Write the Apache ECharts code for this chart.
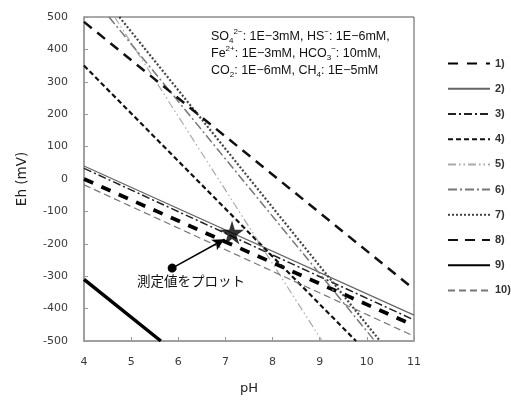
<!DOCTYPE html>
<html>
<head>
<meta charset="utf-8">
<script src="https://cdn.jsdelivr.net/npm/echarts@6/dist/echarts.min.js"></script>
<style>
  html, body { margin: 0; padding: 0; background: #fff; }
  #chart { width: 511px; height: 405px; }
</style>
</head>
<body>
<div id="chart"></div>
<script>
// line endpoints [pH, Eh(mV)]
const line1 = [[4, 0], [11, -452]]
const line2 = [[4, 40], [11, -420]]
const line3 = [[4, 33], [11, -435]]
const line4 = [[4, 350], [9.77, -500]]
const line5 = [[4.65, 500], [9.05, -500]]
const line6 = [[4.53, 500], [10.17, -500]]
const line7 = [[4.75, 500], [10.28, -500]]
const line8 = [[4, 485], [11, -340]]
const line9 = [[4, -310], [5.63, -500]]
const line10 = [[4, -18], [11, -485]]

const measured = [[7.14, -165]]
const arrowFrom = [5.87, -275]
const arrowTo = [6.98, -186]

const legendNames = ['1)', '2)', '3)', '4)', '5)', '6)', '7)', '8)', '9)', '10)']
const xTicks = { min: 4, max: 11, step: 1 }
const yTicks = { min: -500, max: 500, step: 100 }

const chart = echarts.init(document.getElementById('chart'))

function lineSeries(name, data, color, width, type) {
  return {
    name,
    type: 'line',
    data,
    symbol: 'none',
    showSymbol: false,
    silent: true,
    itemStyle: { color },
    lineStyle: { color, width, type }
  }
}

const starPath = 'path://M50,0 L61,35 L98,35 L68,57 L79,91 L50,70 L21,91 L32,57 L2,35 L39,35 Z'

const option = {
  animation: false,
  grid: {
    left: 84,
    right: 97,
    top: 17,
    bottom: 64,
    show: true,
    borderColor: '#555',
    borderWidth: 1
  },
  legend: {
    data: legendNames,
    orient: 'vertical',
    left: 447,
    top: 58,
    padding: 0,
    itemWidth: 42,
    itemHeight: 14,
    itemGap: 14,
    itemStyle: { opacity: 0 },
    textStyle: { fontSize: 11, fontWeight: 'bold', color: '#333', fontFamily: 'Liberation Sans' }
  },
  xAxis: {
    type: 'value',
    min: xTicks.min,
    max: xTicks.max,
    interval: xTicks.step,
    name: 'pH',
    nameLocation: 'middle',
    nameGap: 41,
    nameTextStyle: { fontSize: 13, color: '#222', fontFamily: 'DejaVu Sans' },
    axisLine: { onZero: false, lineStyle: { color: '#a0a0a0', width: 2 } },
    axisTick: { show: true, inside: true, length: 4, lineStyle: { color: '#999' } },
    axisLabel: { margin: 16, fontSize: 11, color: '#3a3a3a', fontFamily: 'DejaVu Sans' },
    splitLine: { show: false }
  },
  yAxis: {
    type: 'value',
    min: yTicks.min,
    max: yTicks.max,
    interval: yTicks.step,
    name: 'Eh (mV)',
    nameLocation: 'middle',
    nameGap: 55,
    nameTextStyle: { fontSize: 13.5, color: '#222', fontFamily: 'DejaVu Sans' },
    axisLine: { show: true, onZero: false, lineStyle: { color: '#a0a0a0', width: 2 } },
    axisTick: { show: true, inside: true, length: 4, lineStyle: { color: '#999' } },
    axisLabel: { margin: 16, fontSize: 11, color: '#3a3a3a', fontFamily: 'DejaVu Sans' },
    splitLine: { show: false }
  },
  graphic: [
    {
      type: 'text',
      left: 211,
      top: 28,
      silent: true,
      style: {
        text: 'SO{sub|4}{sup|2−}: 1E−3mM, HS{sup|−}: 1E−6mM,\n' +
          'Fe{sup|2+}: 1E−3mM, HCO{sub|3}{sup|−}: 10mM,\n' +
          'CO{sub|2}: 1E−6mM, CH{sub|4}: 1E−5mM',
        fontSize: 12.5,
        fontFamily: 'Liberation Sans',
        fill: '#111',
        lineHeight: 17,
        rich: {
          sub: { fontSize: 8, verticalAlign: 'bottom', lineHeight: 17, fontFamily: 'Liberation Sans', fill: '#111' },
          sup: { fontSize: 8, verticalAlign: 'top', lineHeight: 17, fontFamily: 'Liberation Sans', fill: '#111' }
        }
      }
    },
    {
      type: 'text',
      left: 137,
      top: 274,
      silent: true,
      style: {
        text: '測定値をプロット',
        fontSize: 13.5,
        fontFamily: 'Noto Sans CJK JP',
        fill: '#111'
      }
    }
  ],
  series: [
    lineSeries('1)', line1, '#000', 3.8, [10, 9]),
    lineSeries('2)', line2, '#666', 1.2, 'solid'),
    lineSeries('3)', line3, '#222', 1.5, [8, 3, 2, 3]),
    lineSeries('4)', line4, '#111', 2.2, [5, 3]),
    lineSeries('5)', line5, '#aaa', 1.2, [8, 3, 1.5, 3, 1.5, 3]),
    lineSeries('6)', line6, '#777', 1.5, [9, 3, 2, 3]),
    lineSeries('7)', line7, '#444', 2.2, [2, 2]),
    lineSeries('8)', line8, '#111', 2.5, [10, 7]),
    lineSeries('9)', line9, '#000', 3.5, 'solid'),
    lineSeries('10)', line10, '#777', 1.2, [7, 4]),
    {
      name: 'measured',
      type: 'scatter',
      data: measured,
      symbol: starPath,
      symbolSize: 24,
      silent: true,
      z: 5,
      itemStyle: { color: '#000' },
      markLine: {
        silent: true,
        symbol: ['circle', 'arrow'],
        symbolSize: [9, 12],
        label: { show: false },
        lineStyle: { color: '#000', width: 1.5, type: 'solid' },
        data: [[{ coord: arrowFrom }, { coord: arrowTo }]]
      }
    }
  ]
}

chart.setOption(option)
</script>
</body>
</html>
